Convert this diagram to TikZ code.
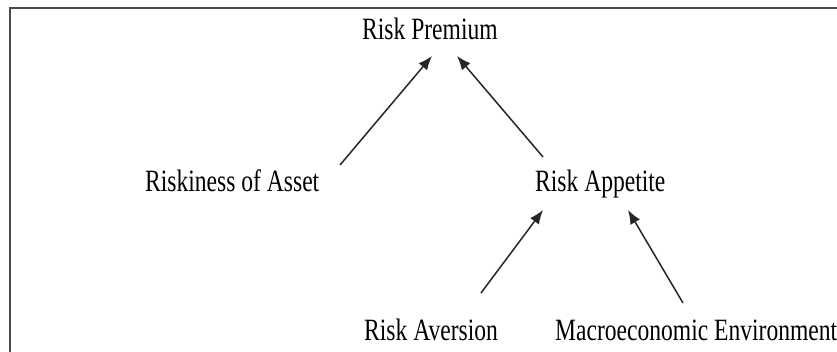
\documentclass[tikz,border=0pt]{standalone}
\usepackage{fontspec}
\setmainfont{Liberation Serif}
\usetikzlibrary{arrows.meta}
\tikzset{
  lbl/.style={inner sep=0pt, anchor=base west, font=\fontsize{31}{31}\selectfont},
  conn/.style={draw=black!85, line width=1.5pt, -{Latex[length=14pt,width=11pt]}},
  frame/.style={draw=black!70, line width=2pt}
}
\newcommand{\sq}[1]{\scalebox{0.76}[1]{#1}}
\begin{document}
\begin{tikzpicture}[x=1pt,y=-1pt]
\useasboundingbox (0,0) rectangle (837,352);
\fill[white] (0,0) rectangle (837,352);
\coordinate (fr1) at (10,352);
\coordinate (fr2) at (10,8);
\coordinate (fr3) at (837,8);
\draw[frame] (fr1) -- (fr2) -- (fr3);
\node[lbl] (rp) at (362,40) {\sq{Risk Premium}};
\node[lbl] (ra) at (145,192) {\sq{Riskiness of Asset}};
\node[lbl] (app) at (535,192) {\sq{Risk Appetite}};
\node[lbl] (av) at (364,340) {\sq{Risk Aversion}};
\node[lbl] (me) at (555,340) {\sq{Macroeconomic Environment}};
\coordinate (a1s) at (340,165); \coordinate (a1e) at (432,56);
\coordinate (a2s) at (543,157); \coordinate (a2e) at (457,56);
\coordinate (a3s) at (481,293); \coordinate (a3e) at (543,210);
\coordinate (a4s) at (683,303); \coordinate (a4e) at (628,210);
\draw[conn] (a1s) -- (a1e);
\draw[conn] (a2s) -- (a2e);
\draw[conn] (a3s) -- (a3e);
\draw[conn] (a4s) -- (a4e);
\end{tikzpicture}
\end{document}
